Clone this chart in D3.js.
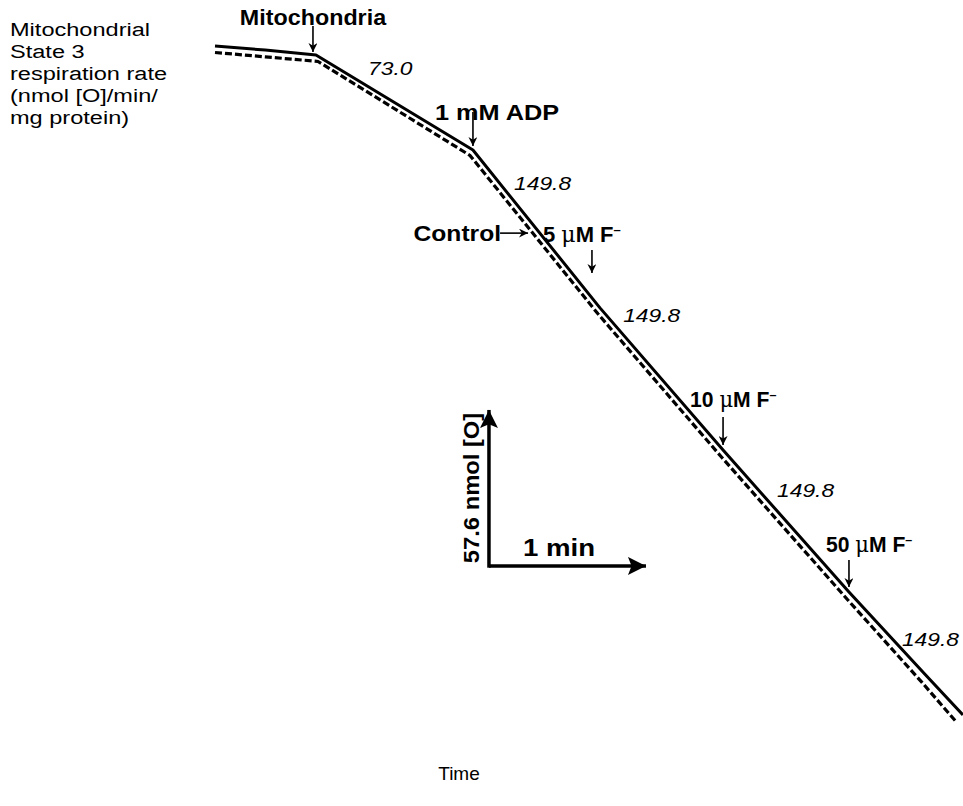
<!DOCTYPE html>
<html>
<head>
<meta charset="utf-8">
<script src="https://cdn.jsdelivr.net/npm/d3@7"></script>
<style>
  body { margin: 0; background: #fff; }
  text { font-family: "Liberation Sans", Arial, sans-serif; fill: #000; }
</style>
</head>
<body>
<script>
// trace data: time (min) vs. O2 consumed (nmol [O])
var solidT = [0, 0.32, 0.643, 1.643, 2.452, 3.236, 4.038, 4.522, 4.764];
var solidO = [0, 1.5, 3.3, 38.4, 96.7, 149.2, 201.6, 232.0, 247.0];
var dashT = [0, 0.32, 0.656, 1.624, 2.439, 3.223, 4.025, 4.503, 4.72];
var dashO = [2.4, 4.0, 5.7, 40.4, 98.9, 151.6, 204.2, 235.0, 249.5];

// additions (arrow tips on the trace)
var eventLabels = ["Mitochondria", "1 mM ADP", "5", "10", "50"];
var eventT = [0.624, 1.643, 2.401, 3.236, 4.038];
var eventO = [2.2, 36.9, 83.8, 147.3, 199.8];

// state 3 rates, nmol [O]/min/mg protein
var rateLabels = ["73.0", "149.8", "149.8", "149.8", "149.8"];
var rateT = [0.975, 1.905, 2.6, 3.58, 4.375];
var rateO = [10.7, 53, 102, 166.5, 221.5];

// scale bar
var barT = 1.745, barO = 192.0, barMin = 1, barNmol = 57.6;

var W = 963, H = 806;
var x = d3.scaleLinear().domain([0, 5]).range([215, 215 + 5 * 157]);
var y = d3.scaleLinear().domain([0, 300]).range([46, 46 + 300 * 2.708]);

var svg = d3.select("body").append("svg")
    .attr("width", W)
    .attr("height", H);

var defs = svg.append("defs");
defs.append("marker")
    .attr("id", "small")
    .attr("viewBox", "0 0 10 10")
    .attr("refX", 10).attr("refY", 5)
    .attr("markerWidth", 11).attr("markerHeight", 9)
    .attr("markerUnits", "userSpaceOnUse")
    .attr("orient", "auto")
    .append("path").attr("d", "M0,0 L10,5 L0,10 L3,5 Z").attr("fill", "#000");
defs.append("marker")
    .attr("id", "big")
    .attr("viewBox", "0 0 10 10")
    .attr("refX", 10).attr("refY", 5)
    .attr("markerWidth", 22).attr("markerHeight", 18)
    .attr("markerUnits", "userSpaceOnUse")
    .attr("orient", "auto")
    .append("path").attr("d", "M0,0 L10,5 L0,10 L2,5 Z").attr("fill", "#000");

var line = d3.line().x(d => x(d[0])).y(d => y(d[1]));

svg.append("path")
    .datum(d3.zip(dashT, dashO))
    .attr("d", line)
    .attr("fill", "none")
    .attr("stroke", "#000")
    .attr("stroke-width", 3.2)
    .attr("stroke-dasharray", "7,3");

svg.append("path")
    .datum(d3.zip(solidT, solidO))
    .attr("d", line)
    .attr("fill", "none")
    .attr("stroke", "#000")
    .attr("stroke-width", 3)
    .attr("stroke-linejoin", "round");

// stretched text helper (the original lettering is wide)
function label(px, py, str, size, weight, style, anchor, sx) {
    return svg.append("text")
        .attr("transform", "translate(" + px + "," + py + ") scale(" + sx + ",1)")
        .attr("text-anchor", anchor)
        .attr("font-size", size)
        .attr("font-weight", weight)
        .attr("font-style", style)
        .text(str);
}

// y label, top left
var yLines = ["Mitochondrial", "State 3", "respiration rate", "(nmol [O]/min/", "mg protein)"];
yLines.forEach(function(s, i) {
    label(10, 36 + i * 22, s, 19, "normal", "normal", "start", 1.24);
});

// event arrows + labels
var arrowLen = [26, 34, 23, 28, 27];
var textDx = [0, -38, -49, -33, -23];
var textDy = [-27, -26, -31, -38, -35];
var textSx = [1.06, 1.15, 1.0, 0.96, 0.96];
eventLabels.forEach(function(s, i) {
    var ex = x(eventT[i]), ey = y(eventO[i]);
    svg.append("line")
        .attr("x1", ex).attr("y1", ey - arrowLen[i])
        .attr("x2", ex).attr("y2", ey)
        .attr("stroke", "#000").attr("stroke-width", 1.6)
        .attr("marker-end", "url(#small)");
    if (i < 2) {
        label(ex + textDx[i], ey + textDy[i], s, 22, "bold", "normal", i == 0 ? "middle" : "start", textSx[i]);
    } else {
        var t = svg.append("text")
            .attr("transform", "translate(" + (ex + textDx[i]) + "," + (ey + textDy[i]) + ") scale(" + textSx[i] + ",1)")
            .attr("font-size", 22)
            .attr("font-weight", "bold");
        t.append("tspan").text(s + " ");
        t.append("tspan").attr("font-family", "'DejaVu Serif', serif").attr("font-weight", "normal").text("\u03bc");
        t.append("tspan").text("M F");
        t.append("tspan").attr("font-size", 13).attr("dy", -8).text("\u2013");
    }
});

// control arrow
var cx = x(1.994), cy = y(69.1);
label(cx - 27, cy + 8, "Control", 22, "bold", "normal", "end", 1.12);
svg.append("line")
    .attr("x1", cx - 28).attr("y1", cy)
    .attr("x2", cx).attr("y2", cy)
    .attr("stroke", "#000").attr("stroke-width", 1.6)
    .attr("marker-end", "url(#small)");

// rates
rateLabels.forEach(function(s, i) {
    label(x(rateT[i]), y(rateO[i]), s, 19, "normal", "italic", "start", 1.2);
});

// scale bar
var bx = x(barT), by = y(barO);
svg.append("line")
    .attr("x1", bx).attr("y1", by)
    .attr("x2", x(barT + barMin)).attr("y2", by)
    .attr("stroke", "#000").attr("stroke-width", 3.5)
    .attr("marker-end", "url(#big)");
svg.append("line")
    .attr("x1", bx).attr("y1", by + 1.75)
    .attr("x2", bx).attr("y2", y(barO - barNmol))
    .attr("stroke", "#000").attr("stroke-width", 3.5)
    .attr("marker-end", "url(#big)");
label(bx + 70, by - 10, barMin + " min", 23, "bold", "normal", "middle", 1.2);
svg.append("text")
    .attr("transform", "translate(" + (bx - 10) + "," + ((by + y(barO - barNmol)) / 2) + ") rotate(-90) scale(1.08,1)")
    .attr("text-anchor", "middle")
    .attr("font-size", 22)
    .attr("font-weight", "bold")
    .text(barNmol + " nmol [O]");

// x label
label(459, 780, "Time", 19, "normal", "normal", "middle", 1.0);
</script>
</body>
</html>
